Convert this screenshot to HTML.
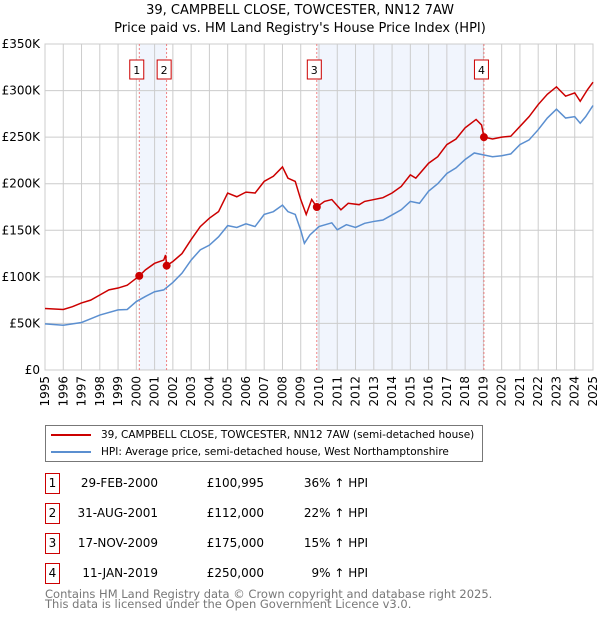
<!DOCTYPE html>
<html><head><meta charset="utf-8"><style>
body{margin:0;background:#fff;font-family:"DejaVu Sans","Liberation Sans",sans-serif;}
#wrap{position:relative;width:600px;height:620px;overflow:hidden}
.t{position:absolute;font-size:12px;color:#000;white-space:nowrap}
.box{position:absolute;border:1px solid #c00;width:13px;height:19px;font-size:12px;text-align:center;line-height:19px}
</style></head><body><div id="wrap">
<div class="t" style="left:0;width:600px;text-align:center;top:3px;font-size:13px">39, CAMPBELL CLOSE, TOWCESTER, NN12 7AW</div>
<div class="t" style="left:0;width:600px;text-align:center;top:21px;font-size:13px">Price paid vs. HM Land Registry's House Price Index (HPI)</div>
<svg id="chart" width="600" height="420" style="position:absolute;left:0;top:0"></svg>
<div style="position:absolute;left:45px;top:425px;width:436px;height:35px;border:1px solid #777;font-size:10.5px;white-space:nowrap">
<div style="position:absolute;left:5px;top:3px"><span style="display:inline-block;width:40px;height:2px;background:#c00;vertical-align:middle;margin-right:10px"></span>39, CAMPBELL CLOSE, TOWCESTER, NN12 7AW (semi-detached house)</div>
<div style="position:absolute;left:5px;top:20px"><span style="display:inline-block;width:40px;height:2px;background:#5b8fd0;vertical-align:middle;margin-right:10px"></span>HPI: Average price, semi-detached house, West Northamptonshire</div>
</div>
<div id="tbl"></div>
<div class="t" style="left:45px;top:589px;color:#777;font-size:11.5px;line-height:10px">Contains HM Land Registry data © Crown copyright and database right 2025.<br>This data is licensed under the Open Government Licence v3.0.</div>
</div>
<script>
const hpiYears=[1995,1996,1997,1997.5,1998,1999,1999.5,2000,2000.5,2001,2001.5,2002,2002.5,2003,2003.5,2004,2004.5,2005,2005.5,2006,2006.5,2007,2007.5,2008,2008.3,2008.7,2009,2009.2,2009.5,2010,2010.7,2011,2011.5,2012,2012.5,2013,2013.5,2014,2014.5,2015,2015.5,2016,2016.5,2017,2017.5,2018,2018.5,2019,2019.5,2020,2020.5,2021,2021.5,2022,2022.5,2023,2023.5,2024,2024.3,2024.6,2025];
const hpiValues=[49.5,48,51,55,59,64.5,65,73.5,79,84,86,94,104,118,129,134,143,155,153,157,154,167,170,177,170,167,150,136,145,154,158,150.5,156,153,157.5,159.5,161,166.5,172,181,179,192,200,211,217,226,233,231,229,230,232,242,247,258,270.5,280,270.5,272,265,272,284];
const ppYears=[1995,1996,1996.5,1997,1997.5,1998,1998.5,1999,1999.5,2000.16,2000.5,2001,2001.5,2001.6,2001.66,2002,2002.5,2003,2003.5,2004,2004.5,2005,2005.5,2006,2006.5,2007,2007.5,2008,2008.3,2008.7,2009,2009.3,2009.6,2009.88,2010.3,2010.7,2011.2,2011.6,2012.2,2012.5,2013,2013.5,2014,2014.5,2015,2015.3,2016,2016.5,2017,2017.5,2018,2018.6,2018.9,2019.03,2019.5,2020,2020.5,2021,2021.5,2022,2022.5,2023,2023.5,2024,2024.3,2024.7,2025];
const ppValues=[66,65,68,72,75,80.5,86,88,91,101,107.5,114.5,118,123.5,112,116.5,125,140,154,163,170,190,186,191,190,202.5,208,218,206,202.5,183,167,183,175,181,183,172,179,177.5,181,183,185,190,197,209.5,206,222,229,242,248,260,269,263,250,248,250,251,261.5,272,285,296,304,294,297.5,288.5,301,309];
const saleLabels=["1","2","3","4"];
const saleYears=[2000.16,2001.66,2009.88,2019.03];
const salePrices=[100.995,112,175,250];
const saleDates=["29-FEB-2000","31-AUG-2001","17-NOV-2009","11-JAN-2019"];
const salePriceText=["£100,995","£112,000","£175,000","£250,000"];
const saleHpiText=["36% ↑ HPI","22% ↑ HPI","15% ↑ HPI","9% ↑ HPI"];
const yTicks=[0,50,100,150,200,250,300,350];
const yTickLabels=["£0","£50K","£100K","£150K","£200K","£250K","£300K","£350K"];
const xTicks=[1995,1996,1997,1998,1999,2000,2001,2002,2003,2004,2005,2006,2007,2008,2009,2010,2011,2012,2013,2014,2015,2016,2017,2018,2019,2020,2021,2022,2023,2024,2025];

const X0=45,X1=593,Y0=370,Y1=44;
const x=v=>X0+(v-1995)/30*(X1-X0);
const y=v=>Y0-v/350*(Y0-Y1);
const svg=document.getElementById('chart');
const NS='http://www.w3.org/2000/svg';
function mk(t,a){const e=document.createElementNS(NS,t);for(const k in a)e.setAttribute(k,a[k]);svg.appendChild(e);return e;}
for(let i=0;i<saleYears.length;i+=2){
 const r=mk('rect',{x:x(saleYears[i]),y:Y1,width:x(saleYears[i+1])-x(saleYears[i]),height:Y0-Y1,fill:'#eef3fc',opacity:0.8});
 
 
}
yTicks.forEach((v,i)=>{
 const l=mk('line',{x1:X0,x2:X1,y1:y(v),y2:y(v),stroke:'#ccc','stroke-width':1});
 
 
 const t=mk('text',{x:X0-5,y:y(v)+4,'text-anchor':'end','font-size':12});
 
 
 t.textContent=yTickLabels[i];
});
xTicks.forEach(v=>{
 const l=mk('line',{x1:x(v),x2:x(v),y1:Y1,y2:Y0,stroke:'#ccc','stroke-width':1});
 
 
 const t=mk('text',{x:0,y:0,'text-anchor':'end','font-size':12,transform:`translate(${x(v)+4},${Y0+6}) rotate(-90)`});
 
 
 t.textContent=v;
});
const fr=mk('rect',{x:X0,y:Y1,width:X1-X0,height:Y0-Y1,fill:'none',stroke:'#ccc'});


saleYears.forEach((v,i)=>{
 const l=mk('line',{x1:x(v),x2:x(v),y1:Y1,y2:Y0,stroke:'#e66','stroke-width':0.8,'stroke-dasharray':'2,2'});
 
 
 const b=mk('rect',{x:x(v)-9.5,y:60,width:14,height:19,fill:'#fff',stroke:'#c00'});
 
 
 const t=mk('text',{x:x(v)-2.5,y:74,'text-anchor':'middle','font-size':11});
 
 
 t.textContent=saleLabels[i];
});
const hp=mk('polyline',{points:hpiYears.map((v,i)=>x(v)+','+y(hpiValues[i])).join(' '),fill:'none',stroke:'#5b8fd0','stroke-width':1.5});


const pp=mk('polyline',{points:ppYears.map((v,i)=>x(v)+','+y(ppValues[i])).join(' '),fill:'none',stroke:'#c00','stroke-width':1.5});


saleYears.forEach((v,i)=>{
 const c=mk('circle',{cx:x(v),cy:y(salePrices[i]),r:4,fill:'#c00'});
 
 
});
const tbl=document.getElementById('tbl');
saleLabels.forEach((s,i)=>{
 const top=474+i*30;
 const row=document.createElement('div');
 
 
 row.innerHTML=`<div class="box" style="left:45px;top:${top-1}px">${s}</div>`+
 `<div class="t" style="left:60px;width:98px;text-align:right;top:${top+2}px">${saleDates[i]}</div>`+
 `<div class="t" style="left:190px;width:74px;text-align:right;top:${top+2}px">${salePriceText[i]}</div>`+
 `<div class="t" style="left:290px;width:78px;text-align:right;top:${top+2}px">${saleHpiText[i]}</div>`;
 tbl.appendChild(row);
});
</script></body></html>
